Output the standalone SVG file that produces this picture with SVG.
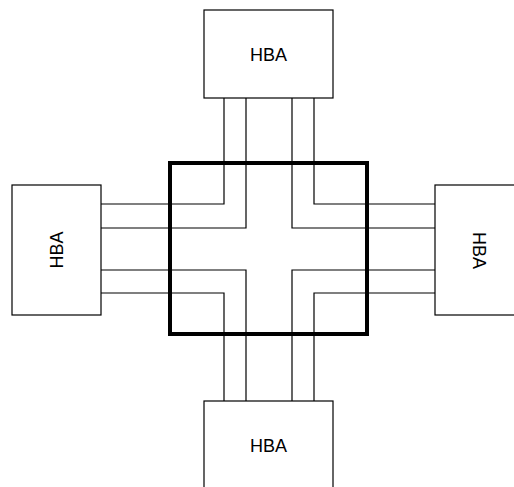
<svg xmlns="http://www.w3.org/2000/svg" width="514" height="487" viewBox="0 0 514 487">
  <style>
    .box { fill: #ffffff; stroke: #000000; stroke-width: 1.2; }
    .label { font-family: "Liberation Sans", Arial, sans-serif; font-size: 18px; fill: #000000; text-anchor: middle; }
    .link { fill: none; stroke: #000000; stroke-width: 1.2; }
    .switch { fill: none; stroke: #000000; stroke-width: 4; }
  </style>
  <rect width="514" height="487" fill="#ffffff"/>

  <!-- paths between adapters, routed through the switch -->
  <g id="connectors">
    <polyline class="link" points="224,98 224,204 101,204"/>
    <polyline class="link" points="246,98 246,228 101,228"/>
    <polyline class="link" points="292,98 292,228 435,228"/>
    <polyline class="link" points="314,98 314,204 435,204"/>
    <polyline class="link" points="101,270 246,270 246,401"/>
    <polyline class="link" points="101,293 224,293 224,401"/>
    <polyline class="link" points="435,270 292,270 292,401"/>
    <polyline class="link" points="435,293 314,293 314,401"/>
  </g>

  <!-- central switch -->
  <g id="switch">
    <rect class="switch" x="170" y="163" width="197" height="171"/>
  </g>

  <g id="hba-top">
    <rect class="box" x="204" y="10" width="129" height="88"/>
    <text class="label" x="268.5" y="61">HBA</text>
  </g>

  <g id="hba-left">
    <rect class="box" x="12" y="185" width="89" height="130"/>
    <text class="label" transform="translate(62.5,250) rotate(-90)" x="0" y="0">HBA</text>
  </g>

  <g id="hba-right">
    <rect class="box" x="435" y="185" width="89" height="130"/>
    <text class="label" transform="translate(472.5,250.5) rotate(90)" x="0" y="0">HBA</text>
  </g>

  <g id="hba-bottom">
    <rect class="box" x="204" y="401" width="129" height="88"/>
    <text class="label" x="268.5" y="451.5">HBA</text>
  </g>
</svg>
